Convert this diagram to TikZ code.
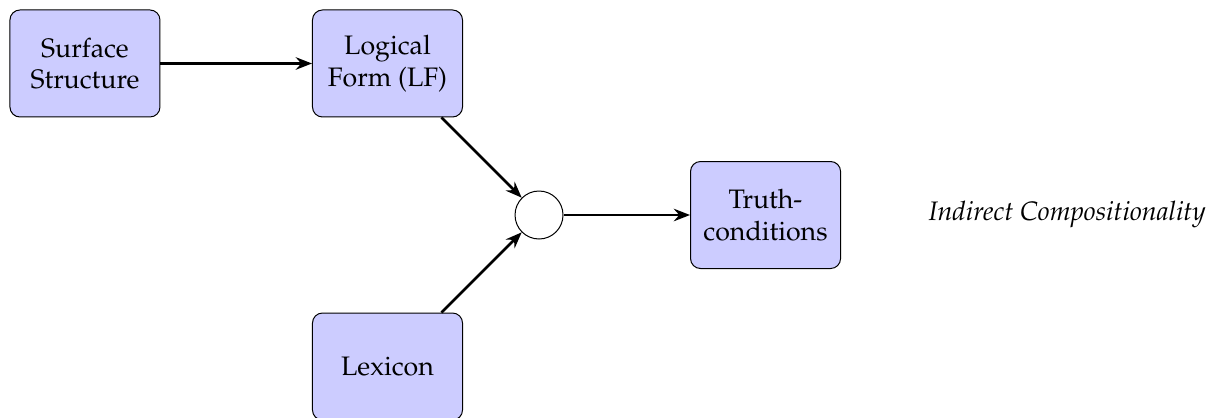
\documentclass[tikz,border=0pt]{standalone}
\usepackage[T1]{fontenc}
\usepackage{mathpazo}
\usetikzlibrary{arrows.meta}
\begin{document}
\begin{tikzpicture}[
  font=\fontsize{10.7}{12.6}\selectfont,
  stagebox/.style={draw, fill=blue!20, rounded corners=4pt, thin,
    minimum width=2.11cm, minimum height=1.505cm, align=center, inner sep=2pt},
  joinpt/.style={draw, circle, fill=white, thin, minimum size=0.675cm, inner sep=0pt},
  flow/.style={line width=1.1pt, -{Stealth[length=6.5pt,width=5pt,inset=2.2pt]}}
]
\useasboundingbox (0,0) rectangle (17.004,-5.865);
\node[stagebox] (ss)  at (1.195,-0.893) {Surface\\Structure};
\node[stagebox] (lf)  at (5.450,-0.893) {Logical\\Form (LF)};
\node[joinpt]   (mid) at (7.581,-3.024) {};
\node[stagebox] (tc)  at (10.767,-3.024) {Truth-\\conditions};
\node[stagebox] (lex) at (5.450,-5.155) {Lexicon};
\node (cap) at (15.01,-3.024) {\itshape Indirect Compositionality};
\draw[flow] (ss) -- (lf);
\draw[flow] (lf) -- (mid);
\draw[flow] (lex) -- (mid);
\draw[flow] (mid) -- (tc);
\end{tikzpicture}
\end{document}
